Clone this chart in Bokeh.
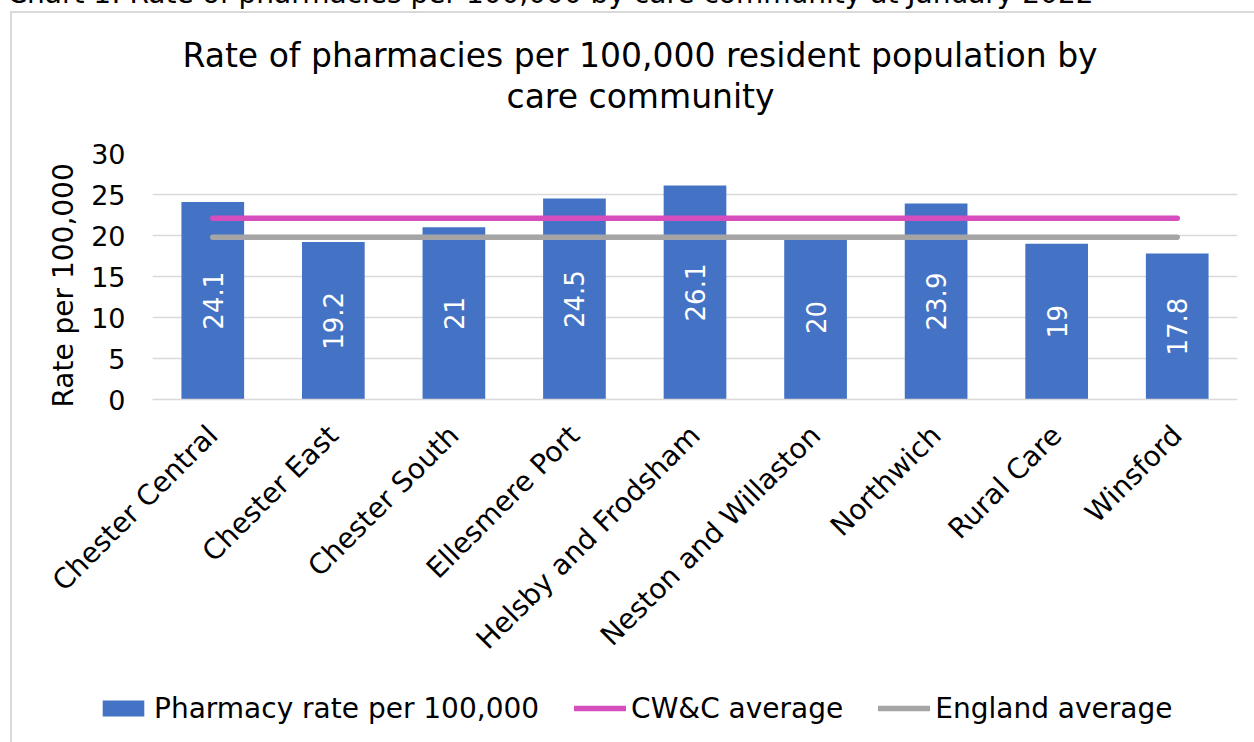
import math
from bokeh.plotting import figure
from bokeh.layouts import column
from bokeh.models import (ColumnDataSource, FactorRange, Range1d, LabelSet, Title,
                          SingleIntervalTicker, Legend, LegendItem)
from bokeh.core.properties import value
from bokeh.embed import file_html
from bokeh.resources import INLINE

# ---- data ----
categories = ["Chester Central", "Chester East", "Chester South", "Ellesmere Port",
              "Helsby and Frodsham", "Neston and Willaston", "Northwich", "Rural Care", "Winsford"]
rates = [24.1, 19.2, 21, 24.5, 26.1, 20, 23.9, 19, 17.8]
rate_labels = ["24.1", "19.2", "21", "24.5", "26.1", "20", "23.9", "19", "17.8"]
cwac_avg = 22.1
england_avg = 19.8
series_names = ["Pharmacy rate per 100,000", "CW&C average", "England average"]
title_lines = ["Rate of pharmacies per 100,000 resident population by", "care community"]
caption = "Chart 1: Rate of pharmacies per 100,000 by care community at January 2022"
y_title = "Rate per 100,000"

FONT = "DejaVu Sans"
BAR = "#4472C4"
PINK = "#D64DBD"
GREY = "#A5A5A5"
GRID = "#D9D9D9"

SHIFT = 50                      # canvas is shifted up so the caption is cut at the page top
FL, FR, FB = 152, 17, 343

src = ColumnDataSource(dict(
    cat=categories, rate=rates, mid=[r / 2 for r in rates], lab=rate_labels,
    cwac=[cwac_avg] * len(categories), eng=[england_avg] * len(categories)))

# ---------------- main chart ----------------
p = figure(frame_width=1085, frame_height=246, x_range=FactorRange(*categories, range_padding=0),
           y_range=Range1d(0, 30), output_backend="svg", toolbar_location=None,
           min_border_left=FL, min_border_right=FR, min_border_top=0, min_border_bottom=FB)
p.title.visible = False
p.outline_line_color = None
p.background_fill_color = "white"
p.border_fill_alpha = 0
p.styles = {
    "margin-top": f"-{SHIFT}px",
    "background-color": "white",
    "background-image": f"linear-gradient({GRID}, {GRID}), linear-gradient({GRID}, {GRID})",
    "background-size": "2px 100%, 100% 2px",
    "background-position": f"10px {SHIFT + 11}px, 10px {SHIFT + 11}px",
    "background-repeat": "no-repeat",
}

p.vbar(x="cat", top="rate", width=0.52, source=src, color=BAR, line_color=None)
p.line(x="cat", y="cwac", source=src, line_color=PINK, line_width=5.5, line_cap="round")
p.line(x="cat", y="eng", source=src, line_color=GREY, line_width=5.5, line_cap="round")

p.yaxis.ticker = SingleIntervalTicker(interval=5)
p.yaxis.axis_line_color = None
p.yaxis.major_tick_line_color = None
p.yaxis.minor_tick_line_color = None
p.yaxis.major_tick_out = 0
p.yaxis.major_tick_in = 0
p.yaxis.major_label_standoff = 23
p.yaxis.major_label_text_font = FONT
p.yaxis.major_label_text_font_size = "27px"
p.yaxis.major_label_text_color = "black"
p.yaxis.axis_label = y_title + "\u00a0\u00a0"
p.yaxis.axis_label_text_font = FONT
p.yaxis.axis_label_text_font_size = "28px"
p.yaxis.axis_label_text_font_style = "normal"
p.yaxis.axis_label_text_color = "black"
p.yaxis.axis_label_standoff = 8

p.xaxis.axis_line_color = GRID
p.xaxis.axis_line_width = 1.5
p.xaxis.major_tick_line_color = None
p.xaxis.major_tick_out = 0
p.xaxis.major_tick_in = 0
p.xaxis.major_label_orientation = math.pi / 4
p.xaxis.major_label_standoff = 31
p.xaxis.major_label_text_font = FONT
p.xaxis.major_label_text_font_size = "28px"
p.xaxis.major_label_text_color = "black"

p.xgrid.grid_line_color = None
p.ygrid.grid_line_color = GRID
p.ygrid.grid_line_width = 1.5

labels = LabelSet(x="cat", y="mid", text="lab", source=src, angle=math.pi / 2,
                  text_align="center", text_baseline="middle", text_color="white",
                  text_font=value(FONT), text_font_size="26px")
p.add_layout(labels)

# titles stacked above the frame (first added sits next to the frame)
spacer = Title(text=" ", text_font=FONT, text_font_size="10px", standoff=24.3, text_color="white")
t2 = Title(text=title_lines[1], align="left", offset=354, vertical_align="bottom", standoff=0.6,
           text_font=FONT, text_font_size="33px", text_font_style="normal", text_color="black")
t1 = Title(text=title_lines[0], align="left", offset=30, vertical_align="bottom", standoff=0,
           text_font=FONT, text_font_size="33px", text_font_style="normal", text_color="black")
cap = Title(text=caption, align="left", offset=7 - FL, vertical_align="bottom", standoff=47.6,
            text_font=FONT, text_font_size="28px", text_font_style="normal", text_color="black")
for t in (spacer, t2, t1, cap):
    p.add_layout(t, "above")

# ---------------- legend strip (overlaid at the bottom of the chart) ----------------
LEG_H = 60
q = figure(width=1254, height=LEG_H, x_range=FactorRange(*categories, range_padding=0),
           y_range=Range1d(100, 101), output_backend="svg", toolbar_location=None,
           x_axis_type=None, y_axis_type=None, min_border=0)
q.title.visible = False
q.grid.visible = False
q.outline_line_color = None
q.border_fill_alpha = 0
q.background_fill_alpha = 0
q.styles = {"position": "absolute", "left": "-55px", "top": f"{708 - LEG_H // 2}px"}

qb = q.vbar(x="cat", top="rate", width=0.52, source=src, color=BAR, line_color=None)
ql1 = q.line(x="cat", y="cwac", source=src, line_color=PINK, line_width=5.5, line_cap="round")
ql2 = q.line(x="cat", y="eng", source=src, line_color=GREY, line_width=5.5, line_cap="round")

legend = Legend(items=[LegendItem(label=series_names[0], renderers=[qb]),
                       LegendItem(label=series_names[1], renderers=[ql1]),
                       LegendItem(label=series_names[2], renderers=[ql2])],
                orientation="horizontal", location=(0, 13.5),
                padding=0, margin=0, spacing=35, glyph_width=52, glyph_height=20,
                label_standoff=5, label_text_font=FONT, label_text_font_size="28px",
                label_text_color="black", border_line_alpha=0, background_fill_alpha=0)
q.add_layout(legend, "center")

root = column(p, q)
open("out.html", "w").write(file_html(root, INLINE))
